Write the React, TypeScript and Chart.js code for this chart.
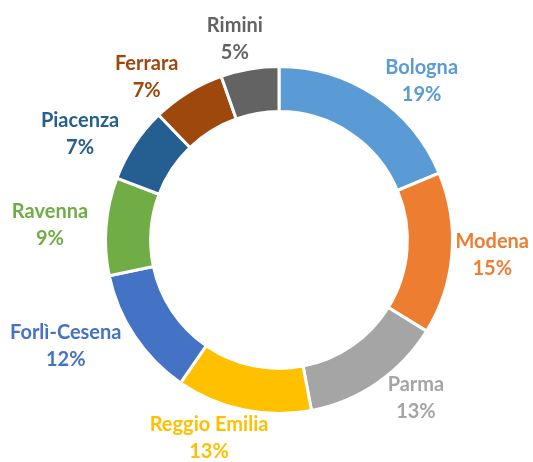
import React, { useEffect, useRef } from "react";
import { Chart, registerables } from "chart.js";

Chart.register(...registerables);

const CITIES = ["Bologna", "Modena", "Parma", "Reggio Emilia", "Forlì-Cesena", "Ravenna", "Piacenza", "Ferrara", "Rimini"];
const SHARES = [18.7, 15.1, 13.2, 12.6, 12.1, 9.1, 7.0, 6.8, 5.4];
const COLORS = ["#5B9BD5", "#ED7D31", "#A5A5A5", "#FFC000", "#4472C4", "#70AD47", "#255E91", "#9E480E", "#636363"];

const FONT = "bold 20px Lato, 'Open Sans', sans-serif";
const LINE_H = 27;

const clamp = (v: number) => Math.max(-1, Math.min(1, v));

const outsideLabels = {
  id: "outsideLabels",
  afterDatasetsDraw(chart: any) {
    const ctx = chart.ctx;
    const meta = chart.getDatasetMeta(0);
    const data = chart.data.datasets[0].data as number[];
    const total = data.reduce((a, b) => a + b, 0);
    const W = chart.width;
    const H = chart.height;
    ctx.save();
    ctx.font = FONT;
    ctx.textAlign = "center";
    ctx.textBaseline = "middle";
    meta.data.forEach((arc: any, i: number) => {
      const p = arc.getProps(["x", "y", "startAngle", "endAngle", "outerRadius"], true);
      const mid = (p.startAngle + p.endAngle) / 2;
      const dx = Math.cos(mid);
      const dy = Math.sin(mid);
      const name = chart.data.labels[i] as string;
      const pct = Math.round((data[i] / total) * 100) + "%";
      const w = Math.max(ctx.measureText(name).width, ctx.measureText(pct).width);
      const h = LINE_H * 2 - 10;
      const R = p.outerRadius + 18;
      const hx = clamp(dx * 2.5);
      const ox = (w / 2) * hx;
      const oy = (h / 2) * dy * Math.max(0, 1 - Math.abs(dx) * 2.5);
      let cx = p.x + dx * R + ox;
      let cy = p.y + dy * R + oy;
      cx = Math.min(Math.max(cx, w / 2 + 10), W - w / 2 - 4);
      cy = Math.min(Math.max(cy, LINE_H), H - LINE_H + 4);
      ctx.fillStyle = COLORS[i];
      ctx.fillText(name, cx, cy - LINE_H / 2);
      ctx.fillText(pct, cx, cy + LINE_H / 2);
    });
    ctx.restore();
  },
};

export default function App() {
  const ref = useRef<HTMLCanvasElement | null>(null);
  useEffect(() => {
    if (!ref.current) return;
    const chart = new Chart(ref.current, {
      type: "doughnut",
      data: {
        labels: CITIES,
        datasets: [
          {
            data: SHARES,
            backgroundColor: COLORS,
            borderColor: "#FFFFFF",
            borderWidth: 3,
          },
        ],
      },
      options: {
        animation: false,
        responsive: false,
        devicePixelRatio: 1,
        cutout: "74%",
        layout: { padding: { left: 104, right: 79, top: 65, bottom: 47 } },
        plugins: {
          legend: { display: false },
          tooltip: { enabled: false },
        },
      },
      plugins: [outsideLabels],
    });
    return () => chart.destroy();
  }, []);
  return (
    <div style={{ position: "absolute", left: 0, top: 0, width: 533, height: 462, background: "#fff" }}>
      <canvas ref={ref} width={533} height={462} />
    </div>
  );
}
